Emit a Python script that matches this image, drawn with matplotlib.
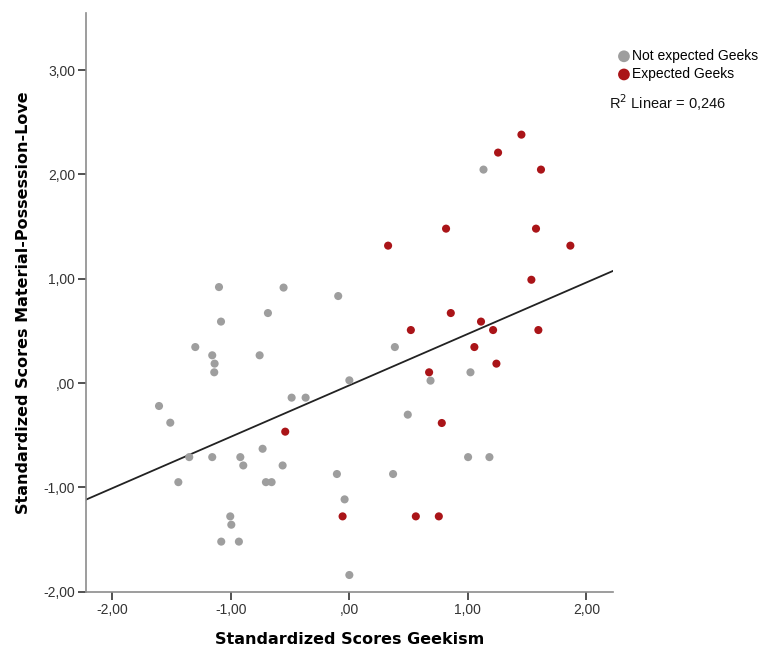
import matplotlib
matplotlib.use("Agg")
import matplotlib.pyplot as plt
import numpy as np

# standardized scores
not_geek_x = [-1.10, -0.555, -0.094, -0.687, -1.083, -1.30, -1.157, -0.757, -1.137, -1.14,
              0.00, -1.606, -1.511, -0.487, -0.369, -0.732, -1.351, -1.157, -0.92, -0.895,
              -0.563, -1.443, -0.704, -0.656, -0.105, -0.04, -1.005, -0.996, -1.081, -0.932,
              0.00, 0.384, 1.022, 0.685, 0.493, 1.002, 1.182, 0.369, 1.132]
not_geek_y = [0.92, 0.915, 0.834, 0.671, 0.589, 0.345, 0.266, 0.266, 0.186, 0.103,
              0.026, -0.22, -0.38, -0.14, -0.14, -0.63, -0.71, -0.71, -0.71, -0.79,
              -0.79, -0.95, -0.95, -0.95, -0.872, -1.115, -1.278, -1.358, -1.52, -1.52,
              -1.84, 0.345, 0.103, 0.023, -0.303, -0.71, -0.71, -0.872, 2.046]

geek_x = [-0.541, -0.057, 1.536, 0.856, 0.519, 1.111, 1.213, 1.595, 1.055, 1.241,
          0.673, 0.78, 0.561, 0.755, 1.452, 1.255, 1.617, 0.816, 1.575, 0.327, 1.865]
geek_y = [-0.466, -1.278, 0.99, 0.671, 0.508, 0.589, 0.508, 0.508, 0.345, 0.186,
          0.103, -0.383, -1.278, -1.278, 2.381, 2.209, 2.046, 1.48, 1.48, 1.317, 1.317]

# fit line as drawn in the chart
fit_slope = 0.493
fit_intercept = -0.022
r2_text = "0,246"

x_ticks = [-2, -1, 0, 1, 2]
y_ticks = [-2, -1, 0, 1, 2, 3]


def comma_fmt(v):
    s = "%.2f" % v
    s = s.replace(".", ",")
    if s.startswith("0,"):
        s = s[1:]
    if s.startswith("-0,"):
        s = "-" + s[2:]
    return s


plt.rcParams['font.family'] = ['Liberation Sans', 'DejaVu Sans']

fig = plt.figure(figsize=(7.66, 6.51), dpi=100)
ax = fig.add_axes([0.1123, 0.0911, 0.688, 0.8894])

gray = "#9e9e9e"
red = "#aa1418"

ax.scatter(not_geek_x, not_geek_y, s=34, color=gray, edgecolors="none", zorder=3,
           label="Not expected Geeks")
ax.scatter(geek_x, geek_y, s=34, color=red, edgecolors="none", zorder=3,
           label="Expected Geeks")

xlim = (-2.222, 2.225)
ax.set_xlim(xlim)
ax.set_ylim(-2.0, 3.55)
lx = np.array(xlim)
ax.plot(lx, fit_intercept + fit_slope * lx, color="#222222", lw=1.3, zorder=2)

ax.set_xticks(x_ticks)
ax.set_yticks(y_ticks)
ax.set_xticklabels([comma_fmt(v) for v in x_ticks])
ax.set_yticklabels([comma_fmt(v) for v in y_ticks])

for side in ["top", "right"]:
    ax.spines[side].set_visible(False)
for side in ["left", "bottom"]:
    ax.spines[side].set_color("#8c8c8c")
    ax.spines[side].set_linewidth(1.2)

ax.tick_params(axis="both", direction="out", length=6, width=1.2, color="#333333",
               labelsize=10, labelcolor="#333333", pad=2)

ax.set_xlabel("Standardized Scores Geekism", fontsize=11.5, fontweight="bold",
              family="DejaVu Sans", labelpad=11)
ax.set_ylabel("Standardized Scores Material-Possession-Love", fontsize=11.5,
              fontweight="bold", family="DejaVu Sans", labelpad=9)

leg = ax.legend(loc="upper left", bbox_to_anchor=(0.997, 0.947), frameon=False,
                fontsize=10, handletextpad=0.1, borderaxespad=0.3,
                labelspacing=0.3, handlelength=1.0, borderpad=0.1,
                markerscale=1.45)
fig.text(0.7955, 0.842, r"R$^2$ Linear = " + r2_text, fontsize=10.5, ha="left",
         va="center", color="#111111")

fig.savefig("out.png", dpi=100)
